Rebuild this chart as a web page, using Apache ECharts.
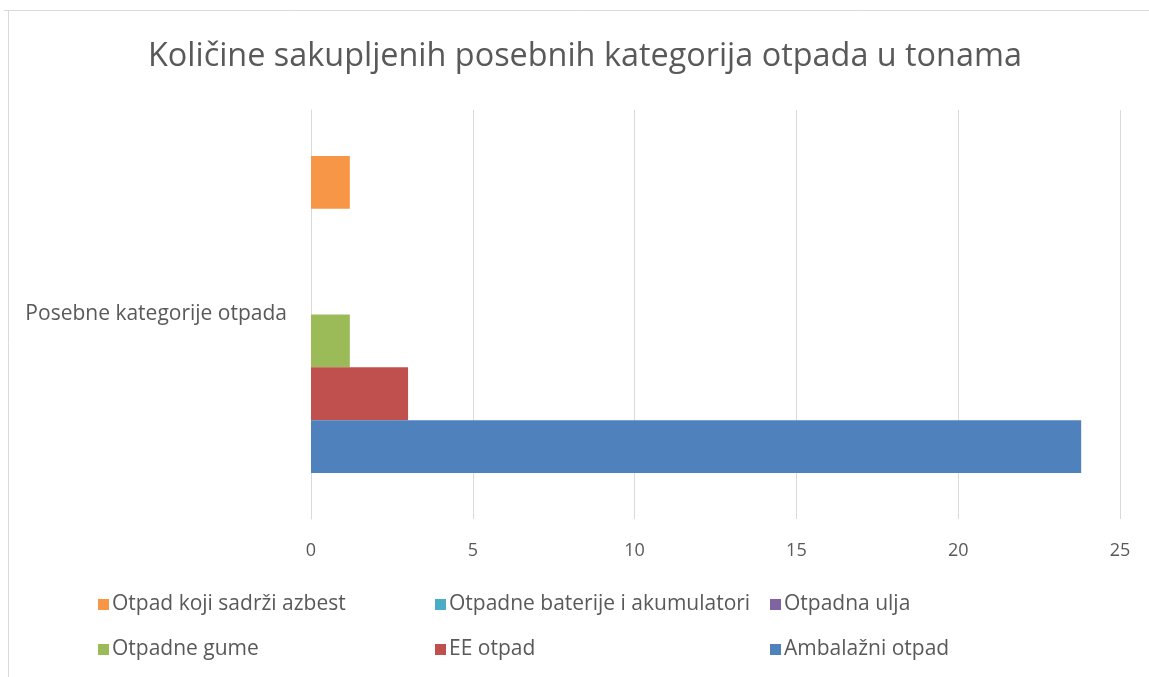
<!DOCTYPE html>
<html>
<head>
<meta charset="utf-8">
<script src="https://cdn.jsdelivr.net/npm/echarts@6/dist/echarts.min.js"></script>
<style>
html,body{margin:0;padding:0;background:#fff;}
#chart{width:1149px;height:677px;}
</style>
</head>
<body>
<div id="chart"></div>
<script>
const categories = ['Posebne kategorije otpada'];
const seriesNames = ['Otpad koji sadrži azbest', 'Otpadne baterije i akumulatori', 'Otpadna ulja', 'Otpadne gume', 'EE otpad', 'Ambalažni otpad'];
const azbest = [1.2];
const baterije = [0];
const ulja = [0];
const gume = [1.2];
const eeOtpad = [3.0];
const ambalazni = [23.8];
const seriesColors = ['#F79646', '#4BACC6', '#8064A2', '#9BBB59', '#C0504D', '#4F81BD'];
const xTicks = [0, 5, 10, 15, 20, 25];

const seriesData = [azbest, baterije, ulja, gume, eeOtpad, ambalazni];
const textColor = '#595959';
const font = '"Open Sans", Lato, sans-serif';

const chart = echarts.init(document.getElementById('chart'));
const legendBase = {
  orient: 'vertical',
  top: 588,
  itemWidth: 11,
  itemHeight: 11,
  itemGap: 22,
  icon: 'rect',
  textStyle: {color: textColor, fontSize: 21, lineHeight: 23, fontFamily: font, padding: [0,0,0,-2]},
  selectedMode: false
};
chart.setOption({
  animation: false,
  title: {
    text: 'Količine sakupljenih posebnih kategorija otpada u tonama',
    left: 143,
    top: 36,
    textStyle: {color: textColor, fontSize: 32.4, fontWeight: 'normal', fontFamily: font}
  },
  graphic: [
    {type: 'line', shape: {x1: 4, y1: 10.5, x2: 1149, y2: 10.5}, style: {stroke: '#d9d9d9', lineWidth: 1}},
    {type: 'line', shape: {x1: 8.5, y1: 10, x2: 8.5, y2: 677}, style: {stroke: '#d9d9d9', lineWidth: 1}}
  ],
  legend: [
    Object.assign({}, legendBase, {left: 93, data: [seriesNames[0], seriesNames[3]]}),
    Object.assign({}, legendBase, {left: 430, data: [seriesNames[1], seriesNames[4]]}),
    Object.assign({}, legendBase, {left: 765, data: [seriesNames[2], seriesNames[5]]})
  ],
  grid: {left: 311, right: 29, top: 110, bottom: 158, containLabel: false},
  xAxis: {
    type: 'value',
    min: 0, max: 25, interval: 5,
    axisLine: {show: false},
    axisTick: {show: false},
    splitLine: {show: true, lineStyle: {color: '#d9d9d9', width: 1}},
    axisLabel: {color: textColor, fontSize: 18, fontFamily: font, margin: 23,
      formatter: v => xTicks.includes(v) ? String(v) : ''}
  },
  yAxis: {
    type: 'category',
    data: categories,
    axisLine: {show: true, lineStyle: {color: '#d9d9d9', width: 1}},
    axisTick: {show: false},
    axisLabel: {color: textColor, fontSize: 21, fontFamily: font, margin: 24}
  },
  series: seriesNames.map((name, i) => ({
    name: name,
    type: 'bar',
    data: seriesData[i],
    itemStyle: {color: seriesColors[i]},
    barGap: '0%',
    barCategoryGap: '22.5%'
  }))
});
</script>
</body>
</html>
